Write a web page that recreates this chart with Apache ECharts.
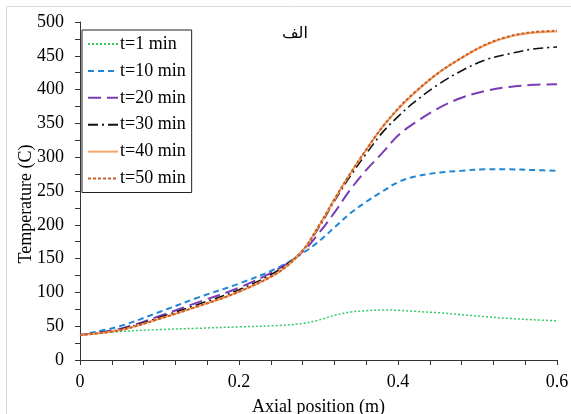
<!DOCTYPE html>
<html>
<head>
<meta charset="utf-8">
<script src="https://cdn.jsdelivr.net/npm/echarts@6/dist/echarts.min.js"></script>
<style>html,body{margin:0;padding:0;background:#fff}#c{width:571px;height:414px}</style>
</head>
<body>
<div id="c"></div>
<script>
var xPos = [0, 0.05, 0.1, 0.15, 0.2, 0.25, 0.28, 0.3, 0.32, 0.34, 0.36, 0.38, 0.4, 0.42, 0.45, 0.48, 0.51, 0.54, 0.57, 0.6];
var t1  = [37, 42, 45, 47, 49, 51, 54, 59, 66, 71, 73, 74, 73.5, 72, 70, 67, 64, 61.5, 59.5, 58];
var t10 = [37, 50, 71, 93, 113, 137, 158, 175, 196, 217, 234, 249, 263, 271, 277, 280, 282, 282, 281, 280];
var t20 = [37, 46, 65, 86, 107, 135, 160, 187, 218, 252, 281, 306, 332, 350, 372, 388, 398, 404, 407, 408];
var t30 = [37, 45, 63, 83, 104, 133, 162, 195, 235, 272, 305, 336, 360, 381, 407, 428, 444, 453, 460, 463];
var t40 = [37, 44, 61, 80, 101, 130, 162, 197, 237, 276, 311, 344, 371, 394, 424, 447, 466, 478, 484, 486];
var t50 = [37, 44, 61, 80, 101, 130, 162, 198, 238, 276, 311, 344, 372, 395, 424, 447, 466.5, 479, 485, 487];
var seriesNames = ['t=1 min', 't=10 min', 't=20 min', 't=30 min', 't=40 min', 't=50 min'];
var xTickLabels = ['0', '0.2', '0.4', '0.6'];

function pairs(arr) { return xPos.map(function (x, i) { return [x, arr[i]]; }); }
var values = [t1, t10, t20, t30, t40, t50];
var styles = [
  {color: '#33cc66', type: [2, 2], width: 1.5},
  {color: '#1f87d6', type: [6, 4], width: 2},
  {color: '#7a3db4', type: [13, 6], width: 2},
  {color: '#111111', type: [10, 4, 2, 4], width: 1.6},
  {color: '#f6a66c', type: 'solid', width: 2},
  {color: '#c85f25', type: [3, 2], width: 2}
];
var serif = '"Liberation Serif", "Times New Roman", serif';

var series = seriesNames.map(function (n, i) {
  return {
    name: n, type: 'line', smooth: 0.35, symbol: 'none', showSymbol: false,
    data: pairs(values[i]),
    lineStyle: styles[i], itemStyle: {color: styles[i].color},
    z: 2 + i
  };
});

var chart = echarts.init(document.getElementById('c'));
chart.setOption({
  animation: false,
  backgroundColor: '#fff',
  graphic: [{type: 'rect', shape: {x: 6.5, y: 6.5, width: 620, height: 430}, style: {fill: 'none', stroke: '#d9d9d9', lineWidth: 1}, silent: true}],
  title: {text: 'الف', left: 277, top: 21, textStyle: {fontSize: 16, fontWeight: 'normal', color: '#000', fontFamily: '"DejaVu Sans", sans-serif'}},
  grid: {left: 80, right: 14, top: 22, bottom: 54, outerBoundsMode: 'none', containLabel: false},
  legend: {
    orient: 'vertical', left: 82, top: 30, padding: [5, 6, 5, 5],
    borderColor: '#222', borderWidth: 1, itemWidth: 30, itemHeight: 14, itemGap: 8.9,
    itemStyle: {opacity: 0},
    textStyle: {fontSize: 18, fontFamily: serif, color: '#000', padding: [0, 0, 0, -3]},
    data: seriesNames
  },
  xAxis: {
    type: 'value', min: 0, max: 0.6, interval: 0.2,
    name: 'Axial position (m)', nameLocation: 'middle', nameGap: 38, nameMoveOverlap: false,
    nameTextStyle: {fontSize: 18, fontFamily: serif, color: '#000'},
    axisLine: {lineStyle: {color: '#333', width: 1}},
    axisTick: {show: true, length: 5, lineStyle: {color: '#333'}},
    minorTick: {show: true, splitNumber: 5, length: 5, lineStyle: {color: '#333'}},
    splitLine: {show: false},
    axisLabel: {fontSize: 18, fontFamily: serif, color: '#000', margin: 13,
      formatter: function (v) { var i = Math.round(v / 0.2); return xTickLabels[i] !== undefined ? xTickLabels[i] : ''; }}
  },
  yAxis: {
    type: 'value', min: 0, max: 500, interval: 50,
    name: 'Temperature (C)', nameLocation: 'middle', nameGap: 45, nameMoveOverlap: false,
    nameTextStyle: {fontSize: 18, fontFamily: serif, color: '#000', padding: [0, 26, 0, 0]},
    axisLine: {show: true, lineStyle: {color: '#333', width: 1}},
    axisTick: {show: true, length: 5, lineStyle: {color: '#333'}},
    minorTick: {show: true, splitNumber: 2, length: 5, lineStyle: {color: '#333'}},
    splitLine: {show: false},
    axisLabel: {fontSize: 18, fontFamily: serif, color: '#000', margin: 16}
  },
  series: series
});
</script>
</body>
</html>
